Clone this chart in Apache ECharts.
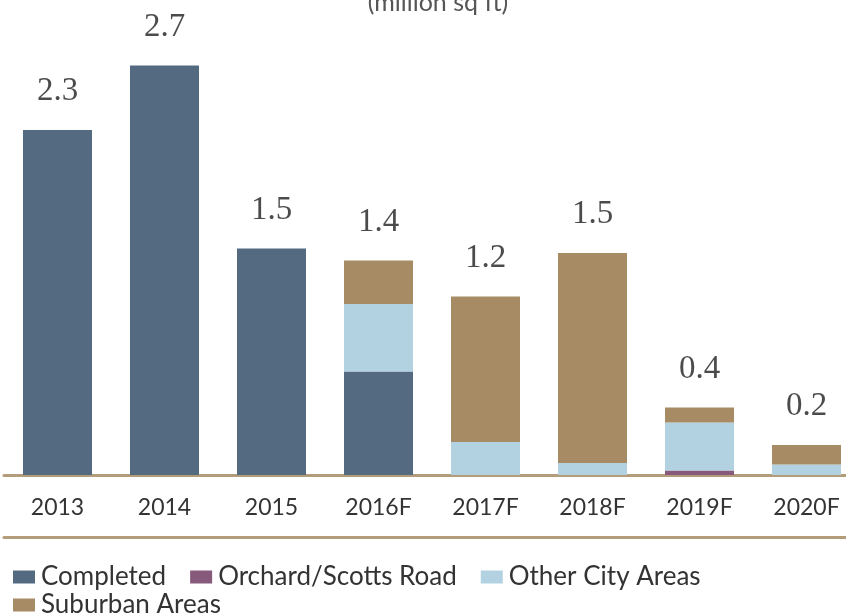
<!DOCTYPE html>
<html>
<head>
<meta charset="utf-8">
<script src="https://cdn.jsdelivr.net/npm/echarts@6/dist/echarts.min.js"></script>
<style>html,body{margin:0;padding:0;background:#fff;overflow:hidden}#c{width:860px;height:614px}</style>
</head>
<body>
<div id="c"></div>
<script>
var categories = ['2013', '2014', '2015', '2016F', '2017F', '2018F', '2019F', '2020F'];
var completed = [2.30, 2.73, 1.51, 0.69, 0, 0, 0, 0];
var orchard = [0, 0, 0, 0, 0, 0, 0.03, 0];
var otherCity = [0, 0, 0, 0.45, 0.22, 0.08, 0.32, 0.07];
var suburban = [0, 0, 0, 0.29, 0.97, 1.40, 0.10, 0.13];
var totalLabels = ['2.3', '2.7', '1.5', '1.4', '1.2', '1.5', '0.4', '0.2'];

var totals = categories.map(function (c, i) {
  return +(completed[i] + orchard[i] + otherCity[i] + suburban[i]).toFixed(3);
});

var colors = {
  completed: '#536a80',
  orchard: '#875a7b',
  other: '#b2d2e2',
  suburban: '#a68b64'
};
var axisColor = '#b39c7a';

var chart = echarts.init(document.getElementById('c'));
function barSeries(name, data, color) {
  return {
    name: name, type: 'bar', stack: 'total', data: data, barWidth: 69,
    itemStyle: { color: color }, emphasis: { disabled: true }, silent: true
  };
}
var legendText = { fontFamily: 'Lato', fontSize: 26, color: '#333', padding: [0, 0, 0, 1] };
chart.setOption({
  animation: false,
  title: {
    text: '(million sq ft)', left: 433, textAlign: 'center', top: -15,
    textStyle: { fontFamily: 'Lato', fontSize: 25, fontWeight: 'normal', color: '#555' }
  },
  grid: { left: 4, right: 0, top: 25, bottom: 139, containLabel: false },
  legend: [{
    data: ['Completed', 'Orchard/Scotts Road', 'Other City Areas'],
    left: 8, top: 559, itemWidth: 22, itemHeight: 13, itemGap: 24,
    icon: 'rect', textStyle: legendText
  }, {
    data: ['Suburban Areas'],
    left: 8, top: 587, itemWidth: 22, itemHeight: 13, itemGap: 24,
    icon: 'rect', textStyle: legendText
  }],
  xAxis: [{
    type: 'category', data: categories,
    axisLine: { lineStyle: { color: axisColor, width: 3 } },
    axisTick: { show: false },
    axisLabel: { margin: 21, fontFamily: 'Lato', fontSize: 23, color: '#333' }
  }, {
    type: 'category', data: categories, position: 'bottom', offset: 62,
    axisLine: { lineStyle: { color: axisColor, width: 3 } },
    axisTick: { show: false }, axisLabel: { show: false }
  }],
  yAxis: { type: 'value', min: 0, max: 3, show: false, splitLine: { show: false } },
  series: [
    barSeries('Completed', completed, colors.completed),
    barSeries('Orchard/Scotts Road', orchard, colors.orchard),
    barSeries('Other City Areas', otherCity, colors.other),
    barSeries('Suburban Areas', suburban, colors.suburban),
    {
      name: 'totals', type: 'scatter', data: totals, symbolSize: 0, silent: true,
      label: {
        show: true, position: 'top', distance: 22,
        formatter: function (p) { return totalLabels[p.dataIndex]; },
        fontFamily: 'Liberation Serif', fontSize: 33, color: '#1e1e1e'
      }
    }
  ]
});
</script>
</body>
</html>
